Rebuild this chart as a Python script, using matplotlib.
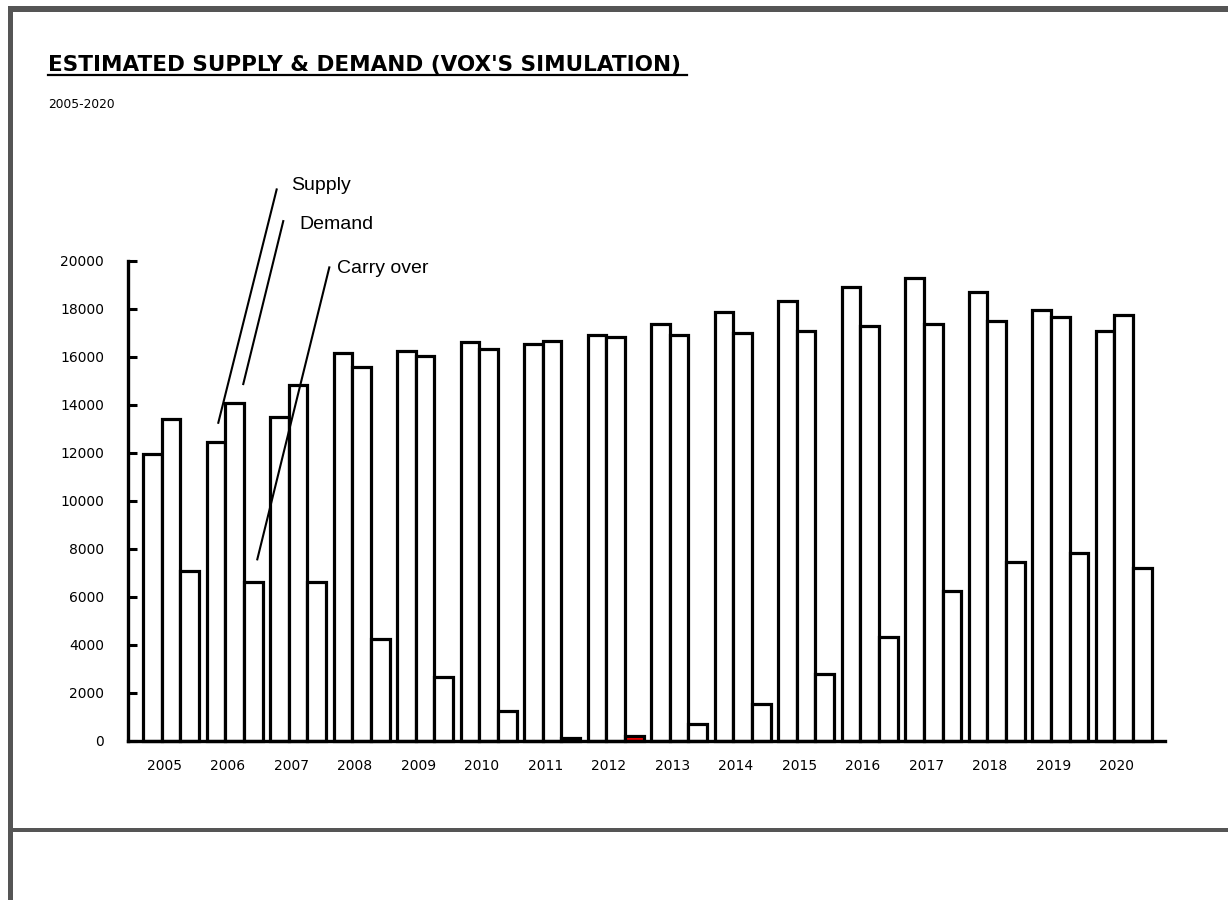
import matplotlib
matplotlib.use("Agg")
import matplotlib.pyplot as plt
from matplotlib.patches import Rectangle
from matplotlib.lines import Line2D
import numpy as np

years = [str(y) for y in range(2005, 2021)]
supply = [11950, 12460, 13500, 16130, 16230, 16590, 16520, 16900,
          17370, 17850, 18310, 18910, 19280, 18680, 17940, 17060]
demand = [13390, 14050, 14810, 15560, 16020, 16330, 16650, 16810,
          16900, 16980, 17075, 17270, 17350, 17480, 17660, 17730]
carry = [7090, 6630, 6630, 4260, 2660, 1260, 140, 220,
         700, 1530, 2780, 4340, 6250, 7460, 7840, 7210]
y_ticks = list(range(0, 20001, 2000))
highlight_year = "2012"

W, H = 1228, 900
fig = plt.figure(figsize=(W / 100, H / 100), dpi=100)
fig.patch.set_facecolor("white")

def fx(px):
    return px / W

def fy(py):
    return 1 - py / H

# frame decorations
frame_col = "#555555"
fig.add_artist(Rectangle((fx(8), fy(12)), fx(W - 8), 6 / H, transform=fig.transFigure,
                         facecolor=frame_col, edgecolor="none"))
fig.add_artist(Rectangle((fx(8), 0), 5 / W, fy(6), transform=fig.transFigure,
                         facecolor=frame_col, edgecolor="none"))
fig.add_artist(Rectangle((fx(13), fy(832)), fx(W - 13), 4 / H, transform=fig.transFigure,
                         facecolor=frame_col, edgecolor="none"))

# title & subtitle
fig.text(fx(48), fy(71), "ESTIMATED SUPPLY & DEMAND (VOX'S SIMULATION)",
         fontsize=15.5, fontweight="bold", family="DejaVu Sans",
         ha="left", va="baseline", color="black")
fig.add_artist(Line2D([fx(48), fx(687)], [fy(74.5), fy(74.5)], transform=fig.transFigure,
                      color="black", lw=1.6))
fig.text(fx(48), fy(104), "2005-2020", fontsize=8.8, family="DejaVu Sans",
         ha="left", va="center", color="black")

ax = fig.add_axes([fx(128), fy(741), (1165 - 128) / W, (741 - 260.5) / H])
x = np.arange(len(years))
w = 0.2925
lw = 2.3
ax.bar(x - w, supply, w, facecolor="white", edgecolor="black", linewidth=lw, clip_on=False, zorder=2)
ax.bar(x, demand, w, facecolor="white", edgecolor="black", linewidth=lw, clip_on=False, zorder=2)
cfaces = ["red" if yr == highlight_year else "white" for yr in years]
ax.bar(x + w, carry, w, color=cfaces, edgecolor="black", linewidth=lw, clip_on=False, zorder=2)

ax.set_xlim(-0.68, 15.65)
ax.set_ylim(0, 20000)
for s in ["top", "right"]:
    ax.spines[s].set_visible(False)
for s in ["left", "bottom"]:
    ax.spines[s].set_linewidth(2.4)
    ax.spines[s].set_zorder(3)
ax.set_yticks(y_ticks)
ax.set_yticklabels([str(v) for v in y_ticks])
ax.tick_params(axis="y", direction="in", length=6.5, width=2.2, pad=17.3, labelsize=10)
ax.set_xticks(x - 0.11)
ax.set_xticklabels(years)
ax.tick_params(axis="x", length=0, pad=13, labelsize=10)
ax.patch.set_alpha(0)

# callouts
callouts = [
    ("Supply", (0.742, 13246), (1.661, 22958), (1.882, 23138)),
    ("Demand", (1.135, 14857), (1.765, 21640), (2.013, 21515)),
    ("Carry over", (1.356, 7561), (2.490, 19713), (2.606, 19671)),
]
for label, p0, p1, pt in callouts:
    ax.plot([p0[0], p1[0]], [p0[1], p1[1]], color="black", lw=1.5, clip_on=False, zorder=4)
    ax.text(pt[0], pt[1], label, fontsize=14, family="Liberation Sans",
            ha="left", va="center", clip_on=False)

fig.savefig("out.png", dpi=100)
